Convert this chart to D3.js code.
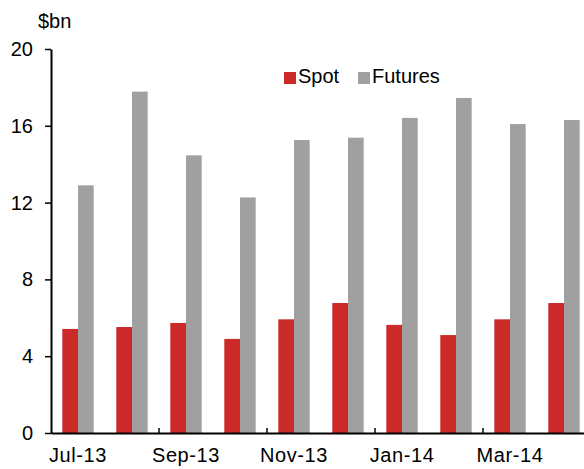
<!DOCTYPE html>
<html>
<head>
<meta charset="utf-8">
<script src="https://cdn.jsdelivr.net/npm/d3@7"></script>
<style>
  body { margin: 0; background: #fff; }
  text { font-family: "Liberation Sans", Arial, sans-serif; fill: #000; }
</style>
</head>
<body>
<div id="chart"></div>
<script>
// data
const months = ["Jul-13", "Aug-13", "Sep-13", "Oct-13", "Nov-13", "Dec-13", "Jan-14", "Feb-14", "Mar-14", "Apr-14"];
const spot = [5.42, 5.52, 5.73, 4.90, 5.92, 6.77, 5.63, 5.10, 5.92, 6.77];
const futures = [12.9, 17.78, 14.46, 12.27, 15.26, 15.38, 16.41, 17.45, 16.09, 16.3];
const series = ["Spot", "Futures"];
const colors = ["#cc2929", "#a0a0a0"];
const yTicks = [0, 4, 8, 12, 16, 20];

const W = 584, H = 469;
const plotLeft = 51, plotTop = 49, plotBottom = 433;
const catWidth = 54;

const svg = d3.select("#chart")
    .append("svg")
    .attr("width", W)
    .attr("height", H);

//scales
const x = d3.scaleBand()
    .domain(months)
    .range([plotLeft, plotLeft + catWidth * months.length]);

const xs = d3.scaleBand()
    .domain(series)
    .range([-15.7, 15.7]);

const y = d3.scaleLinear()
    .domain([0, 20])
    .range([plotBottom, plotTop]);

//bars
const rows = months.map((m, i) => ({month: m, values: [spot[i], futures[i]]}));

const groups = svg.selectAll(".cat")
    .data(rows)
    .enter().append("g")
    .attr("class", "cat")
    .attr("transform", d => `translate(${x(d.month) + x.bandwidth() / 2},0)`);

groups.selectAll("rect")
    .data(d => d.values.map((v, j) => ({s: series[j], v: v, c: colors[j]})))
    .enter().append("rect")
    .attr("x", d => xs(d.s))
    .attr("y", d => y(d.v))
    .attr("width", xs.bandwidth())
    .attr("height", d => y(0) - y(d.v))
    .attr("fill", d => d.c);

//y axis
const yAxis = svg.append("g")
    .attr("transform", `translate(${plotLeft},0)`)
    .call(d3.axisLeft(y).tickValues(yTicks).tickSize(6).tickSizeOuter(0).tickPadding(12));
yAxis.select(".domain").attr("stroke", "#000").attr("stroke-width", 2);
yAxis.selectAll(".tick line").attr("stroke", "#000").attr("stroke-width", 1.5);
yAxis.selectAll(".tick text")
    .style("font-size", "20px")
    .style("font-family", "'Liberation Sans', Arial, sans-serif")
    .attr("fill", "#000");

//x axis
const xAxis = svg.append("g")
    .attr("transform", `translate(0,${plotBottom})`)
    .call(d3.axisBottom(x)
        .tickValues(months.filter((m, i) => i % 2 === 0))
        .tickSize(0).tickSizeOuter(0).tickPadding(15));
xAxis.select(".domain").attr("stroke", "#000").attr("stroke-width", 2);
xAxis.selectAll(".tick text")
    .style("font-size", "20px")
    .style("letter-spacing", "0.6px")
    .style("font-family", "'Liberation Sans', Arial, sans-serif")
    .attr("fill", "#000");

// inward ticks between month pairs
svg.selectAll(".xtick")
    .data(months.filter((m, i) => i > 0 && i % 2 === 0))
    .enter().append("line")
    .attr("class", "xtick")
    .attr("x1", d => x(d)).attr("x2", d => x(d))
    .attr("y1", plotBottom).attr("y2", plotBottom - 5)
    .attr("stroke", "#000")
    .attr("stroke-width", 1.5);

//unit label
svg.append("text")
    .attr("x", 38)
    .attr("y", 28)
    .style("font-size", "20px")
    .text("$bn");

//legend
const legend = svg.append("g");
const legX = [284, 358];
series.forEach((s, i) => {
    legend.append("rect")
        .attr("x", legX[i]).attr("y", 72)
        .attr("width", 12).attr("height", 12)
        .attr("fill", colors[i]);
    legend.append("text")
        .attr("x", legX[i] + 14)
        .attr("y", 83)
        .style("font-size", "20px")
        .text(s);
});
</script>
</body>
</html>
